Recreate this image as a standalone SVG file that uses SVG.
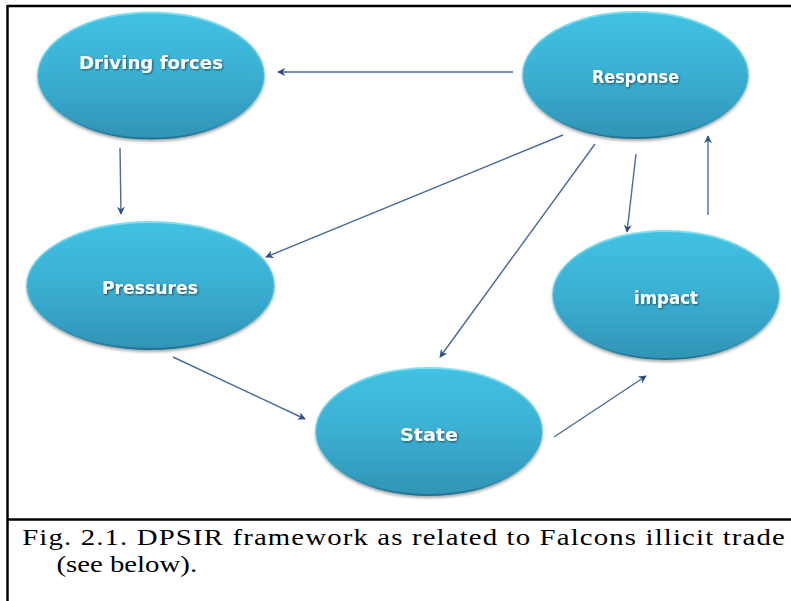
<svg xmlns="http://www.w3.org/2000/svg" width="791" height="601" viewBox="0 0 791 601">
  <defs>
    <linearGradient id="fillG" x1="0" y1="0" x2="0" y2="1">
      <stop offset="0" stop-color="#42c2e3"/>
      <stop offset="0.5" stop-color="#3aafd2"/>
      <stop offset="1" stop-color="#3194b6"/>
    </linearGradient>
    <linearGradient id="rimG" x1="0" y1="0" x2="0" y2="1">
      <stop offset="0" stop-color="#7fe0f5"/>
      <stop offset="0.45" stop-color="#45c0e0" stop-opacity="0.6"/>
      <stop offset="0.7" stop-color="#3aa6c8" stop-opacity="0.3"/>
      <stop offset="1" stop-color="#23718f"/>
    </linearGradient>
    <filter id="shadow" x="-10%" y="-10%" width="120%" height="130%">
      <feGaussianBlur in="SourceAlpha" stdDeviation="1.5"/>
      <feOffset dx="0" dy="1.5" result="b"/>
      <feComponentTransfer><feFuncA type="linear" slope="0.35"/></feComponentTransfer>
      <feMerge><feMergeNode/><feMergeNode in="SourceGraphic"/></feMerge>
    </filter>
    <filter id="tshadow" x="-10%" y="-30%" width="120%" height="160%">
      <feGaussianBlur in="SourceAlpha" stdDeviation="0.8"/>
      <feOffset dx="0.8" dy="1" result="b"/>
      <feComponentTransfer><feFuncA type="linear" slope="0.55"/></feComponentTransfer>
      <feMerge><feMergeNode/><feMergeNode in="SourceGraphic"/></feMerge>
    </filter>
    <marker id="arr" viewBox="0 0 10 10" refX="9" refY="5" markerWidth="8" markerHeight="8" markerUnits="userSpaceOnUse" orient="auto">
      <path d="M0,0 L10,5 L0,10 L3,5 Z" fill="#2e4f82"/>
    </marker>
  </defs>
  <style>
    .node ellipse { fill: url(#fillG); stroke: url(#rimG); stroke-width: 2; filter: url(#shadow); }
    .node text { font-family: "DejaVu Sans", "Liberation Sans", sans-serif; font-weight: bold; font-size: 17px; fill: #ffffff; text-anchor: middle; filter: url(#tshadow); }
    .conn line { stroke: #4a6b9c; stroke-width: 1.4; fill: none; marker-end: url(#arr); }
    .frame { stroke: #000; stroke-width: 2.5; fill: none; }
    .cap { font-family: "Liberation Serif", "Times New Roman", serif; font-size: 24px; fill: #000; }
  </style>

  <rect x="0" y="0" width="791" height="601" fill="#ffffff"/>

  <!-- frame -->
  <line class="frame" x1="7.5" y1="6" x2="791" y2="6"/>
  <line class="frame" x1="7.5" y1="5" x2="7.5" y2="601"/>
  <line class="frame" x1="7.5" y1="519.5" x2="791" y2="519.5"/>

  <g id="connectors" class="conn">
    <line x1="513" y1="72" x2="278" y2="72"/>
    <line x1="120" y1="148" x2="121" y2="214"/>
    <line x1="563" y1="135" x2="266" y2="257"/>
    <line x1="595" y1="144" x2="440" y2="357"/>
    <line x1="636" y1="154" x2="627" y2="232"/>
    <line x1="708" y1="215" x2="708" y2="136"/>
    <line x1="173" y1="357" x2="305" y2="419"/>
    <line x1="554" y1="437" x2="646" y2="376"/>
  </g>

  <g id="driving-forces" class="node">
    <ellipse cx="151" cy="75.5" rx="113" ry="63"/>
    <text x="151" y="69" textLength="144" lengthAdjust="spacingAndGlyphs">Driving forces</text>
  </g>
  <g id="response" class="node">
    <ellipse cx="635.5" cy="75" rx="112.5" ry="63"/>
    <text x="635.5" y="83" textLength="87" lengthAdjust="spacingAndGlyphs">Response</text>
  </g>
  <g id="pressures" class="node">
    <ellipse cx="150.5" cy="285.5" rx="123.5" ry="63.5"/>
    <text x="150" y="294" textLength="96" lengthAdjust="spacingAndGlyphs">Pressures</text>
  </g>
  <g id="state" class="node">
    <ellipse cx="429" cy="431.5" rx="113" ry="63.5"/>
    <text x="429" y="441" textLength="58" lengthAdjust="spacingAndGlyphs">State</text>
  </g>
  <g id="impact" class="node">
    <ellipse cx="666" cy="295" rx="113" ry="64"/>
    <text x="666" y="304" textLength="64" lengthAdjust="spacingAndGlyphs">impact</text>
  </g>

  <g id="caption">
    <text class="cap" transform="scale(1.2,1)" x="18.5" y="545" textLength="635.5" lengthAdjust="spacing">Fig. 2.1. DPSIR framework as related to Falcons illicit trade</text>
    <text class="cap" transform="scale(1.2,1)" x="47" y="572">(see below).</text>
  </g>
</svg>
